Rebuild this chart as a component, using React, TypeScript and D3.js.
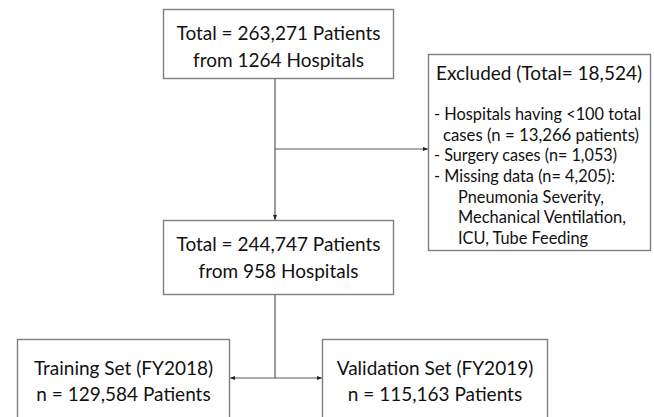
import React from 'react';
import * as d3 from 'd3';

// Cohort numbers
const cohortCounts = { patients: 263271, hospitals: 1264 };
const finalCounts = { patients: 244747, hospitals: 958 };
const excludedTotal = 18524;
const excludedReasons = [
  { label: 'Hospitals having <100 total', cont: 'cases (n = 13,266 patients)', n: 13266 },
  { label: 'Surgery cases', n: 1053 },
  { label: 'Missing data', n: 4205 },
];
const missingFields = ['Pneumonia Severity,', 'Mechanical Ventilation,', 'ICU, Tube Feeding'];
const splitSets = [
  { name: 'Training Set (FY2018)', n: 129584 },
  { name: 'Validation Set (FY2019)', n: 115163 },
];

const fmt = d3.format(',');

const W = 654;
const H = 417;
const FONT = 'Lato, "Liberation Sans", sans-serif';
const BOX_STROKE = '#7f7f7f';
const LINE_STROKE = '#595959';
const TEXT = '#111';

// Layout of the boxes (pixels)
const layout = {
  top: { x: 163, y: 9, w: 230, h: 69 },
  mid: { x: 163, y: 220, w: 230, h: 74 },
  excl: { x: 428, y: 54, w: 222, h: 196 },
  train: { x: 17, y: 339, w: 212, h: 90 },
  valid: { x: 322, y: 339, w: 225, h: 90 },
  trunkX: 275,
  branchY: 149,
  splitY: 378,
  // rendered widths of the excluded-box rows, to mimic the narrower original face
  exclWidths: [207, 196, 183, 181, 146, 168, 130],
};

const line = d3.line<[number, number]>();

const Box: React.FC<{ b: { x: number; y: number; w: number; h: number } }> = ({ b }) => (
  <rect x={b.x + 0.5} y={b.y + 0.5} width={b.w} height={b.h} fill="#fff" stroke={BOX_STROKE} strokeWidth={1.4} />
);

const CenteredLines: React.FC<{ lines: string[]; cx: number; ys: number[]; size: number }> = ({ lines, cx, ys, size }) => (
  <g>
    {lines.map((t, i) => (
      <text key={i} x={cx} y={ys[i]} textAnchor="middle" dominantBaseline="central" fontSize={size} fill={TEXT} fontFamily={FONT}>
        {t}
      </text>
    ))}
  </g>
);

export default function App() {
  const L = layout;
  const bigSize = 19;
  const smallSize = 16.5;

  const topLines = [`Total = ${fmt(cohortCounts.patients)} Patients`, `from ${cohortCounts.hospitals} Hospitals`];
  const midLines = [`Total = ${fmt(finalCounts.patients)} Patients`, `from ${finalCounts.hospitals} Hospitals`];

  // excluded box rows: [text, indent level]
  const exclRows: [string, number][] = [];
  excludedReasons.forEach((r, i) => {
    if (r.cont) {
      exclRows.push([`- ${r.label}`, 0]);
      exclRows.push([r.cont, 1]);
    } else {
      exclRows.push([`- ${r.label} (n= ${fmt(r.n)})${i === excludedReasons.length - 1 ? ':' : ''}`, 0]);
    }
  });
  missingFields.forEach(f => exclRows.push([f, 2]));
  const indents = [434, 443, 458];
  const rowY = d3.scaleLinear().domain([0, exclRows.length - 1]).range([114, 238]);

  const trunkTop = L.top.y + L.top.h + 1;
  const trunkBottom = L.mid.y;

  return (
    <svg width={W} height={H} style={{ position: 'absolute', left: 0, top: 0, background: '#fff' }}>
      <defs>
        <marker id="arr" viewBox="0 0 10 10" refX="10" refY="5" markerWidth="5" markerHeight="5" orient="auto-start-reverse" markerUnits="userSpaceOnUse">
          <path d="M0,1 L10,5 L0,9 z" fill="#222" />
        </marker>
      </defs>
      <rect width={W} height={H} fill="#fff" />

      {/* connectors */}
      <path d={line([[L.trunkX, trunkTop], [L.trunkX, trunkBottom]]) ?? ''} stroke={LINE_STROKE} strokeWidth={1.2} fill="none" markerEnd="url(#arr)" />
      <path d={line([[L.trunkX, L.branchY], [L.excl.x, L.branchY]]) ?? ''} stroke={LINE_STROKE} strokeWidth={1.2} fill="none" markerEnd="url(#arr)" />
      <path d={line([[L.trunkX, L.mid.y + L.mid.h + 1], [L.trunkX, L.splitY]]) ?? ''} stroke={LINE_STROKE} strokeWidth={1.2} fill="none" />
      <path d={line([[L.train.x + L.train.w + 1, L.splitY], [L.valid.x, L.splitY]]) ?? ''} stroke={LINE_STROKE} strokeWidth={1.2} fill="none" markerStart="url(#arr)" markerEnd="url(#arr)" />

      <Box b={L.top} />
      <CenteredLines lines={topLines} cx={L.top.x + L.top.w / 2 + 0.5} ys={[32, 59]} size={bigSize} />

      <Box b={L.mid} />
      <CenteredLines lines={midLines} cx={L.mid.x + L.mid.w / 2 + 0.5} ys={[243, 270]} size={bigSize} />

      <Box b={L.excl} />
      <text x={436} y={72} dominantBaseline="central" fontSize={bigSize} fill={TEXT} fontFamily={FONT}>
        {`Excluded (Total= ${fmt(excludedTotal)})`}
      </text>
      {exclRows.map(([t, ind], i) => (
        <text
          key={i}
          x={indents[ind]}
          y={rowY(i)}
          dominantBaseline="central"
          fontSize={smallSize}
          fill={TEXT}
          fontFamily={FONT}
          textLength={L.exclWidths[i]}
          lengthAdjust="spacingAndGlyphs"
        >
          {t}
        </text>
      ))}

      {splitSets.map((s, i) => {
        const b = i === 0 ? L.train : L.valid;
        return (
          <g key={s.name}>
            <Box b={b} />
            <CenteredLines lines={[s.name, `n = ${fmt(s.n)} Patients`]} cx={b.x + b.w / 2 + 0.5} ys={[367, 393]} size={bigSize} />
          </g>
        );
      })}
    </svg>
  );
}
